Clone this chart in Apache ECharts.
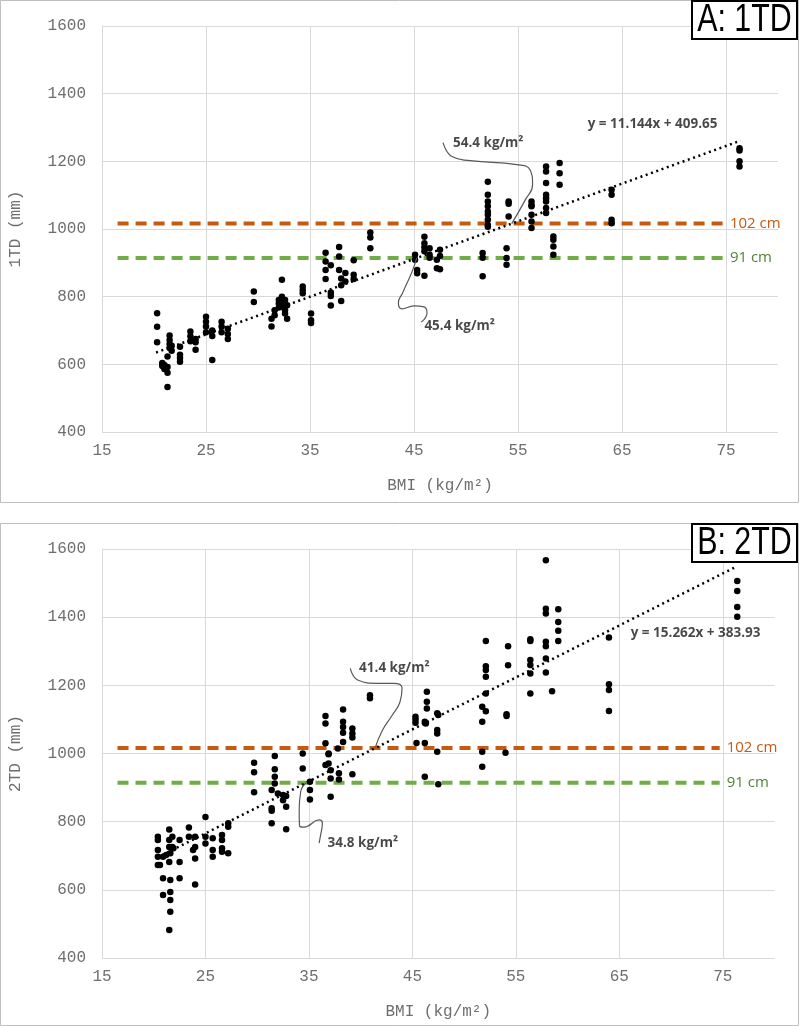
<!DOCTYPE html>
<html>
<head>
<meta charset="utf-8">
<script src="https://cdn.jsdelivr.net/npm/echarts@6/dist/echarts.min.js"></script>
<style>
  html, body { margin: 0; padding: 0; background: #fff; }
  #main { width: 800px; height: 1026px; }
</style>
</head>
<body>
<div id="main"></div>
<script>
// A: 1TD — BMI columns and the 1TD readings at each one
const bmi1 = [20.3, 20.8, 21.0, 21.3, 21.5, 21.7, 22.5, 23.5, 24.0, 25.0, 25.6, 26.5, 27.1,
  29.6, 31.3, 31.6, 32.0, 32.3, 32.6, 32.8, 34.3, 35.1, 36.5, 37.0, 37.8, 38.0, 38.4, 39.2,
  40.8, 45.1, 45.3, 46.0, 46.5, 47.2, 47.5, 51.6, 52.1, 53.9, 54.1, 56.3, 57.7, 58.4, 59.0,
  64.0, 76.3];
const td1 = [
  [751, 711, 665], [600, 595, 604], [598, 586], [623, 575, 533, 592], [648, 660, 672, 685],
  [640, 655], [652, 619, 608, 628], [697, 683, 668], [665, 643, 675], [741, 726, 712, 695],
  [700, 684, 613], [726, 712, 695], [705, 690, 675],
  [815, 784], [735, 712], [760, 745], [790, 780, 768], [850, 800, 785, 770], [790, 760, 750],
  [775, 735], [830, 820, 810], [750, 730, 722], [930, 904, 879, 852], [893, 812, 802, 774],
  [947, 919, 879], [854, 834, 787], [870, 845], [908, 865, 852],
  [990, 975, 943], [924, 909], [879, 869], [977, 958, 946, 934, 862], [943, 924, 915],
  [909, 884], [939, 881, 920], [929, 915, 860],
  [1140, 1101, 1081, 1067, 1052, 1042, 1027, 1012, 1007], [943, 914, 894], [1081, 1075, 1037],
  [1081, 1071, 1067, 1042, 1022, 1003], [1185, 1170, 1136, 1101, 1091, 1081, 1062, 1047],
  [978, 968, 948, 924], [1195, 1165, 1131],
  [1116, 1101, 1027, 1017], [1239, 1232, 1200, 1185]
];

// B: 2TD
const bmi2 = [20.4, 20.6, 20.9, 21.2, 21.5, 21.6, 21.8, 21.9, 22.5, 23.4, 23.8, 24.0, 25.0,
  25.7, 26.6, 27.2, 29.7, 31.4, 31.7, 32.0, 32.5, 32.8, 34.4, 35.1, 36.6, 36.9, 37.1, 37.8,
  37.9, 38.3, 39.2, 40.9, 45.3, 45.4, 46.2, 46.3, 46.4, 47.4, 47.5, 51.75, 52.1, 54.0, 54.1,
  54.25, 56.4, 57.9, 58.5, 59.1, 64.0, 76.4];
const td2 = [
  [756, 746, 717, 697, 673], [673], [697, 634, 585], [702], [777, 746, 726, 682, 482],
  [707, 629, 594, 570, 536], [756, 726], [722], [746, 682, 634], [783, 756], [717],
  [756, 726, 692, 616], [814, 756, 736],
  [751, 717, 697], [761, 746, 722, 712], [795, 785, 707], [973, 945, 886],
  [893, 839, 832, 795], [993, 954, 932, 912], [883], [878, 863], [844, 778, 875],
  [1000, 956], [917, 893, 865], [1110, 1088, 1030, 966], [998, 971, 1000], [951, 927, 873],
  [1015], [942, 924], [1129, 1093, 1078, 1061, 1034], [1073, 1059, 1047, 939], [1171, 1162],
  [1108, 1100, 1090], [1031], [1093, 1031, 932], [1088], [1181, 1152, 1132],
  [1118, 1069, 1059, 1005], [1113, 910], [1137, 1093, 1005, 961],
  [1330, 1256, 1245, 1225, 1176, 1124], [1002], [1115, 1110], [1315, 1259],
  [1335, 1330, 1274, 1260, 1235, 1176], [1567, 1425, 1411, 1328, 1315, 1279, 1238],
  [1183], [1423, 1386, 1360, 1330], [1340, 1203, 1186, 1125], [1506, 1477, 1430, 1401]
];

// trend lines (ends)
const trend1 = [[20.2, 635], [76.4, 1261]];
const trend2 = [[20.3, 694], [76.3, 1548]];
const trendText = ['y = 11.144x + 409.65', 'y = 15.262x + 383.93'];
const trendTextAt = [[61.7, 1311], [66.1, 1353]];

// waist cut-offs in mm
const cutX = [16.5, 74.7];
const cutValues = [1016, 914];
const cutNames = ['102 cm', '91 cm'];

// BMI where trend meets the cut-offs, with callout paths
const callText1 = ['54.4 kg/m\u00b2', '45.4 kg/m\u00b2'];
const callAt1 = [[48.75, 1255], [46.0, 713]];
const callPath1 = [
  [[47.8, 1255], [48.65, 1214], [50.4, 1202], [54.9, 1190], [56.15, 1175], [56.4, 1131], [55.7, 1086], [54.4, 1016]],
  [[45.26, 914], [44.8, 873], [43.9, 811], [43.5, 782], [43.85, 764], [45.0, 773], [45.96, 770], [46.25, 752], [45.7, 725]]
];
const callText2 = ['41.4 kg/m\u00b2', '34.8 kg/m\u00b2'];
const callAt2 = [[39.85, 1250], [36.8, 737]];
const callPath2 = [
  [[39.0, 1250], [39.76, 1215], [41.6, 1206], [43.2, 1206], [44.0, 1192], [43.8, 1151], [43.0, 1110], [42.07, 1066], [41.4, 1016]],
  [[34.73, 914], [34.2, 887], [34.06, 834], [34.1, 787], [34.5, 784], [36.0, 805], [36.3, 796], [36.1, 756], [35.98, 737]]
];

const xTicks = [15, 25, 35, 45, 55, 65, 75];

const myChart = echarts.init(document.getElementById('main'));

const flatten = (xs, ys) => {
  const out = [];
  xs.forEach((x, i) => ys[i].forEach((y) => out.push([x, y])));
  return out;
};

const axisFont = { fontFamily: 'Liberation Mono', fontSize: 16, color: '#6e6e6e' };

const makeX = (gi) => ({
  type: 'value', gridIndex: gi, min: 15, max: 80,
  name: 'BMI (kg/m\u00b2)', nameLocation: 'middle', nameGap: 46,
  nameTextStyle: axisFont,
  axisLine: { show: false },
  axisTick: { show: false, customValues: xTicks },
  axisLabel: Object.assign({ customValues: xTicks, margin: 11 }, axisFont),
  splitLine: { show: true, lineStyle: { color: '#d9d9d9', width: 1 } }
});

const makeY = (gi, name) => ({
  type: 'value', gridIndex: gi, min: 400, max: 1600, interval: 200,
  name: name, nameLocation: 'middle', nameRotate: 90, nameGap: 78,
  nameTextStyle: axisFont,
  axisLine: { show: true, lineStyle: { color: '#d9d9d9' } },
  axisTick: { show: false },
  axisLabel: Object.assign({ margin: 16, formatter: (v) => String(v) }, axisFont),
  splitLine: { show: true, lineStyle: { color: '#d9d9d9', width: 1 } }
});

// 每个子图的系列
const panelSeries = (gi, pts, trend, tText, tAt, cText, cAt, cPath) => {
  const s = [];
  // 参考线
  cutValues.forEach((v, k) => {
    s.push({
      type: 'line', xAxisIndex: gi, yAxisIndex: gi, silent: true, symbol: 'none', z: 2,
      data: cutX.map((x) => [x, v]),
      lineStyle: { color: k === 0 ? '#C55A11' : '#70AD47', width: 4, type: [11, 7] },
      endLabel: {
        show: true, formatter: cutNames[k], distance: 7,
        color: k === 0 ? '#C55A11' : '#548235',
        fontFamily: 'Open Sans', fontSize: 15
      }
    });
  });
  // 散点
  s.push({
    type: 'scatter', xAxisIndex: gi, yAxisIndex: gi, silent: true, z: 3,
    symbolSize: 6.5, itemStyle: { color: '#000', opacity: 1 }, data: pts
  });
  // 趋势线
  s.push({
    type: 'line', xAxisIndex: gi, yAxisIndex: gi, silent: true, symbol: 'none', z: 4,
    data: trend,
    lineStyle: { color: '#000', width: 2.5, type: [2, 3.6] }
  });
  // 标注连线
  cPath.forEach((p) => {
    s.push({
      type: 'line', xAxisIndex: gi, yAxisIndex: gi, silent: true, symbol: 'none', z: 5,
      smooth: 0.5, data: p,
      lineStyle: { color: '#595959', width: 1.2 }
    });
  });
  // 文字
  const labels = cText.map((t, k) => ({ value: cAt[k], name: t }));
  labels.push({ value: tAt, name: tText });
  s.push({
    type: 'scatter', xAxisIndex: gi, yAxisIndex: gi, silent: true, z: 6,
    symbolSize: 0, data: labels,
    label: {
      show: true, position: 'right', distance: 0, formatter: '{b}',
      fontFamily: 'Open Sans', fontWeight: 'bold', fontSize: 13.5, color: '#1a1a1a'
    }
  });
  return s;
};

const panelBox = (top, text) => ([
  {
    type: 'rect', shape: { x: 0.5, y: top + 0.5, width: 798, height: 502 }, silent: true,
    style: { fill: 'none', stroke: '#bfbfbf', lineWidth: 1 }, z: -1
  },
  {
    type: 'rect', shape: { x: 692, y: top + 1, width: 105, height: 38 }, silent: true,
    style: { fill: '#fff', stroke: '#000', lineWidth: 2 }, z: 100
  },
  {
    type: 'text', x: 744.5, y: top + 21, scaleX: 0.8, silent: true, z: 101,
    style: {
      text: text, fill: '#000', align: 'center', verticalAlign: 'middle',
      font: '38px "Liberation Sans", sans-serif'
    }
  }
]);

const option = {
  animation: false,
  backgroundColor: '#fff',
  grid: [
    { left: 102, right: 22, top: 26, height: 406 },
    { left: 98.5, right: 25.5, top: 549, height: 409 }
  ],
  xAxis: [makeX(0), makeX(1)],
  yAxis: [makeY(0, '1TD (mm)'), makeY(1, '2TD (mm)')],
  graphic: panelBox(0, 'A: 1TD').concat(panelBox(523, 'B: 2TD')),
  series: panelSeries(0, flatten(bmi1, td1), trend1, trendText[0], trendTextAt[0], callText1, callAt1, callPath1)
    .concat(panelSeries(1, flatten(bmi2, td2), trend2, trendText[1], trendTextAt[1], callText2, callAt2, callPath2))
};

myChart.setOption(option);
</script>
</body>
</html>
